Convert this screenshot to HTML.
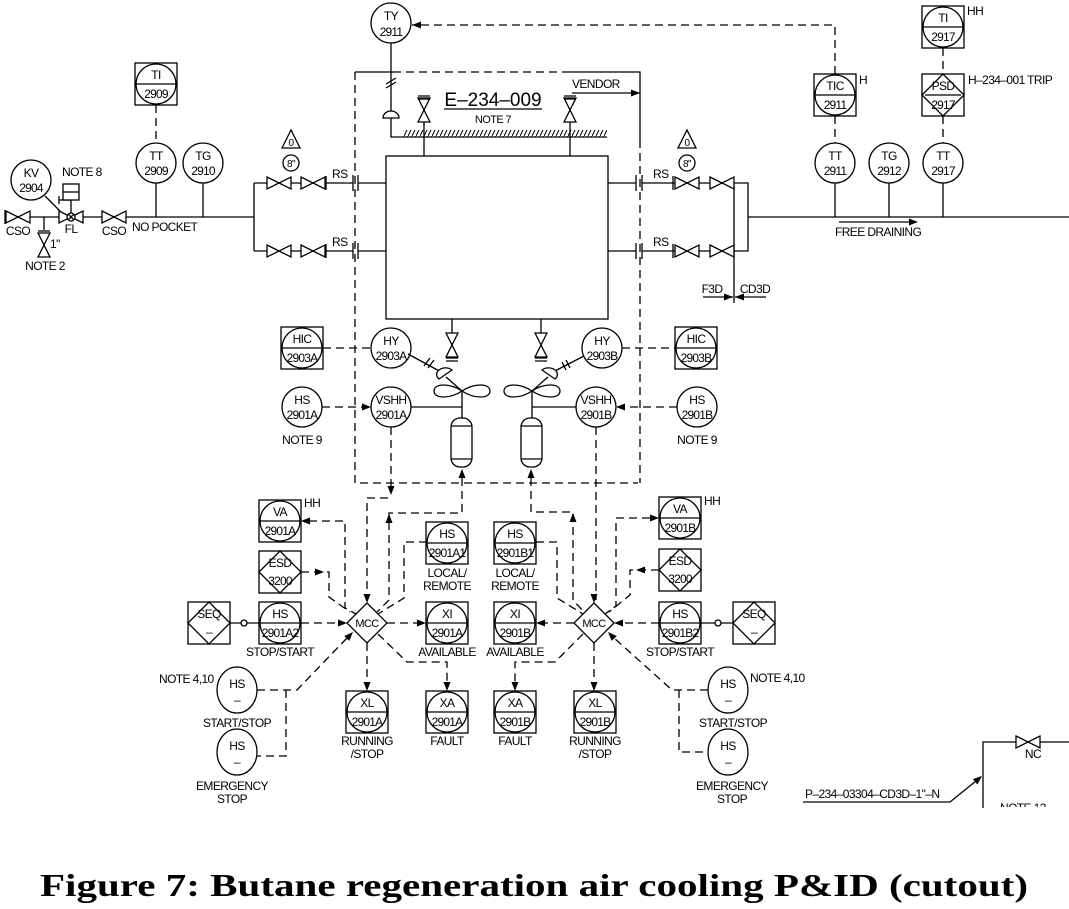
<!DOCTYPE html>
<html><head><meta charset="utf-8"><style>
html,body{margin:0;padding:0;background:#fff;}
svg{display:block;}
.s{stroke:#000;stroke-width:1.3;fill:none;}
.d{stroke:#000;stroke-width:1.3;fill:none;stroke-dasharray:8,5;}
.w{stroke:#000;stroke-width:1.3;fill:#fff;}
text{font-family:"Liberation Sans Narrow","Liberation Sans",sans-serif;font-size:12px;fill:#000;letter-spacing:-0.6px;}
.c{text-anchor:middle;}
.n{font-size:12px;letter-spacing:-0.8px;}
</style></head><body>
<svg width="1069" height="909" viewBox="0 0 1069 909" xmlns="http://www.w3.org/2000/svg">
<defs>
<pattern id="h" width="4" height="8" patternUnits="userSpaceOnUse"><path d="M0,8 L4,0" stroke="#000" stroke-width="1"/></pattern>
<path id="vh" d="M-12,-6 L12,6 L12,-6 L-12,6 Z" stroke="#000" stroke-width="1.3" fill="#fff"/>
<path id="vv" d="M-6,-12 L6,12 L-6,12 L6,-12 Z" stroke="#000" stroke-width="1.3" fill="#fff"/>
<path id="ar" d="M0,0 L-9,-3.5 L-9,3.5 Z" fill="#000"/>
<g id="ib"><rect x="-21" y="-21" width="42" height="42" class="w"/><circle r="20" class="s"/><line x1="-20" y1="0" x2="20" y2="0" class="s"/></g>
<g id="idb"><rect x="-21" y="-21" width="42" height="42" class="w"/><path d="M-21,0 L0,-21 L21,0 L0,21 Z" class="s"/></g>
</defs>

<!-- top signal -->
<circle cx="391" cy="23" r="20" class="w"/><text x="391" y="20" class="c">TY</text><text x="391" y="36" class="c n">2911</text>
<path d="M835,74 V25 H412" class="d"/><use href="#ar" transform="translate(412,25) rotate(180)"/>
<path d="M391,43 V112 M391,118 V137 H403" class="s"/>
<path d="M386,84 L396,78 M386,88 L396,82" class="s"/>
<path d="M383,118 A8,7 0 0 1 399,118 Z" class="w"/>

<!-- vendor boundary -->
<path d="M355,72 V483 H638" class="d"/>
<path d="M355,72 H393" class="s"/><path d="M393,72 H565" class="d"/><path d="M565,72 H640 V140" class="s"/><path d="M640,140 V483" class="d"/>
<text x="572" y="88">VENDOR</text><path d="M572,93 H640" class="s"/><use href="#ar" transform="translate(640,93)"/>

<!-- hatch + top valves -->
<rect x="403" y="130" width="204" height="7" fill="url(#h)"/><line x1="403" y1="137" x2="607" y2="137" class="s"/>
<path d="M424,122 V156 M570,122 V156" class="s"/>
<use href="#vv" transform="translate(424,110)"/><use href="#vv" transform="translate(570,110)"/>
<path d="M418,96 H430 M418,99 H430 M564,96 H576 M564,99 H576" class="s"/>
<text x="493" y="106" class="c" style="font-size:19px;letter-spacing:0">E–234–009</text><line x1="444" y1="109" x2="542" y2="109" class="s"/>
<text x="493" y="123" class="c" style="font-size:11px">NOTE 7</text>

<!-- exchanger -->
<rect x="386" y="156" width="222" height="163" class="s"/>

<!-- left piping -->
<path d="M5,210 V224 M5,217 H254 M254,183 V251" class="s"/>
<use href="#vh" transform="translate(18,217)"/><use href="#vh" transform="translate(71,217)"/><use href="#vh" transform="translate(114,217)"/>
<circle cx="71" cy="217" r="4" class="w"/><path d="M68,214 L74,220 M74,214 L68,220" class="s"/>
<path d="M71,213 V200 M59,200 H71 M59,196 V204" class="s"/><rect x="63" y="184" width="16" height="16" class="w"/><line x1="63" y1="192" x2="79" y2="192" class="s"/>
<text x="18" y="235" class="c">CSO</text><text x="71" y="233" class="c">FL</text><text x="114" y="235" class="c">CSO</text>
<path d="M44,217 V230 M38,231 H50" class="s"/><use href="#vv" transform="translate(44,245)"/>
<text x="50" y="248">1"</text><text x="45" y="270" class="c">NOTE 2</text>
<circle cx="31" cy="180" r="20" class="w"/><text x="31" y="177" class="c">KV</text><text x="31" y="192" class="c n">2904</text>
<path d="M45,196 L60,211" class="s"/>
<text x="62" y="176">NOTE 8</text>
<text x="132" y="231">NO POCKET</text>
<use href="#ib" transform="translate(156,84)"/><text x="156" y="79" class="c">TI</text><text x="156" y="98" class="c n">2909</text>
<path d="M156,105 V143" class="d"/>
<circle cx="156" cy="163" r="20" class="w"/><text x="156" y="160" class="c">TT</text><text x="156" y="175" class="c n">2909</text>
<circle cx="203" cy="163" r="20" class="w"/><text x="203" y="160" class="c">TG</text><text x="203" y="175" class="c n">2910</text>
<path d="M156,183 V217 M203,183 V217" class="s"/>
<!-- left branches -->
<path d="M254,183 H353 M358,183 H386 M254,251 H353 M358,251 H386 M326,176 V190 M326,244 V258 M353,175 V191 M358,175 V191 M353,243 V259 M358,243 V259" class="s"/>
<use href="#vh" transform="translate(279,183)"/><use href="#vh" transform="translate(313,183)"/>
<use href="#vh" transform="translate(279,251)"/><use href="#vh" transform="translate(313,251)"/>
<text x="332" y="178">RS</text><text x="332" y="246">RS</text>
<path d="M291,130 L282,148 H300 Z" class="s"/><text x="291" y="146" class="c" style="font-size:10px">0</text>
<circle cx="291" cy="163" r="8" class="s"/><text x="291" y="167" class="c" style="font-size:10px">8"</text>

<!-- right branches -->
<path d="M608,183 H636 M642,183 H748 V251 H642 M636,251 H608 M636,175 V191 M642,175 V191 M636,243 V259 M642,243 V259 M673,176 V190 M673,244 V258 M734,183 V303 M748,217 H1069" class="s"/>
<use href="#vh" transform="translate(687,183)"/><use href="#vh" transform="translate(722,183)"/>
<use href="#vh" transform="translate(687,251)"/><use href="#vh" transform="translate(722,251)"/>
<text x="653" y="178">RS</text><text x="653" y="246">RS</text>
<path d="M687,130 L678,148 H696 Z" class="s"/><text x="687" y="146" class="c" style="font-size:10px">0</text>
<circle cx="687" cy="163" r="8" class="s"/><text x="687" y="167" class="c" style="font-size:10px">8"</text>
<text x="712" y="293" class="c">F3D</text><text x="755" y="293" class="c">CD3D</text>
<path d="M703,297 H733 M766,297 H735" class="s"/><use href="#ar" transform="translate(733,297)"/><use href="#ar" transform="translate(735,297) rotate(180)"/>

<!-- right instruments -->
<circle cx="835" cy="163" r="20" class="w"/><text x="835" y="160" class="c">TT</text><text x="835" y="175" class="c n">2911</text>
<circle cx="889" cy="163" r="20" class="w"/><text x="889" y="160" class="c">TG</text><text x="889" y="175" class="c n">2912</text>
<circle cx="943" cy="163" r="20" class="w"/><text x="943" y="160" class="c">TT</text><text x="943" y="175" class="c n">2917</text>
<path d="M835,183 V217 M889,183 V217 M943,183 V217" class="s"/>
<path d="M835,116 V143 M943,116 V143 M943,48 V74" class="d"/>
<use href="#ib" transform="translate(835,95)"/><text x="835" y="90" class="c">TIC</text><text x="835" y="109" class="c n">2911</text>
<text x="859" y="84">H</text>
<rect x="922" y="74" width="42" height="42" class="w"/><path d="M922,95 L943,74 L964,95 L943,116 Z" class="s"/><line x1="925" y1="95" x2="961" y2="95" class="s"/>
<text x="943" y="90" class="c">PSD</text><text x="943" y="109" class="c n">2917</text>
<text x="968" y="84">H–234–001 TRIP</text>
<use href="#ib" transform="translate(943,27)"/><text x="943" y="22" class="c">TI</text><text x="943" y="41" class="c n">2917</text>
<text x="967" y="15">HH</text>
<path d="M839,222 H912" class="s"/><use href="#ar" transform="translate(918,222)"/>
<text x="835" y="236">FREE DRAINING</text>

<!-- bottom valves -->
<path d="M452,319 V333 M541,319 V333" class="s"/>
<use href="#vv" transform="translate(452,345)"/><use href="#vv" transform="translate(541,345)"/>
<path d="M446,358 H458 M446,361 H458 M535,358 H547 M535,361 H547" class="s"/>

<!-- HY/HIC/HS/VSHH A -->
<use href="#ib" transform="translate(302,348)"/><text x="302" y="343" class="c">HIC</text><text x="302" y="362" class="c n">2903A</text>
<path d="M323,348 H371" class="d"/>
<circle cx="391" cy="348" r="20" class="w"/><text x="391" y="345" class="c">HY</text><text x="391" y="360" class="c n">2903A</text>
<circle cx="302" cy="407" r="20" class="w"/><text x="302" y="404" class="c">HS</text><text x="302" y="419" class="c n">2901A</text>
<path d="M322,407 H369" class="d"/><use href="#ar" transform="translate(371,407)"/>
<circle cx="391" cy="407" r="20" class="w"/><text x="391" y="404" class="c">VSHH</text><text x="391" y="419" class="c n">2901A</text>
<text x="302" y="444" class="c">NOTE 9</text>
<path d="M408,354 L443,373 M446,377 L462,391 V418 M411,407 H462 M424,366 L430,358 M428,368 L434,360" class="s"/>
<path d="M439,379 A8,6 0 0 1 452,370 Z" class="w"/>
<path d="M462,391 C450,383 434,383 434,391 C434,399 450,399 462,391 C474,383 490,383 490,391 C490,399 474,399 462,391 Z" class="w"/>
<rect x="451" y="418" width="21" height="49" rx="9" class="w"/><path d="M451,426 H472 M451,459 H472" class="s"/>

<!-- B side -->
<use href="#ib" transform="translate(696,348)"/><text x="696" y="343" class="c">HIC</text><text x="696" y="362" class="c n">2903B</text>
<path d="M622,348 H675" class="d"/>
<circle cx="602" cy="348" r="20" class="w"/><text x="602" y="345" class="c">HY</text><text x="602" y="360" class="c n">2903B</text>
<circle cx="697" cy="407" r="20" class="w"/><text x="697" y="404" class="c">HS</text><text x="697" y="419" class="c n">2901B</text>
<path d="M677,407 H618" class="d"/><use href="#ar" transform="translate(616,407) rotate(180)"/>
<circle cx="596" cy="407" r="20" class="w"/><text x="596" y="404" class="c">VSHH</text><text x="596" y="419" class="c n">2901B</text>
<text x="697" y="444" class="c">NOTE 9</text>
<path d="M584,356 L551,373 M548,377 L532,391 V418 M576,407 H532 M562,362 L566,370 M566,360 L570,368" class="s"/>
<path d="M542,370 A8,6 0 0 1 555,379 Z" class="w"/>
<path d="M532,391 C520,383 504,383 504,391 C504,399 520,399 532,391 C544,383 560,383 560,391 C560,399 544,399 532,391 Z" class="w"/>
<rect x="521" y="418" width="21" height="49" rx="9" class="w"/><path d="M521,426 H542 M521,459 H542" class="s"/>

<!-- lower dashed links A -->
<path d="M391,427 V490" class="d"/><use href="#ar" transform="translate(391,495) rotate(90)"/>
<path d="M388,498 H367 V600" class="d"/><use href="#ar" transform="translate(367,603) rotate(90)"/>
<path d="M462,478 V513 H389 V600 L377,612" class="d"/><use href="#ar" transform="translate(462,469) rotate(-90)"/><use href="#ar" transform="translate(389,514) rotate(-90)"/>
<path d="M309,521 H345 V608 L356,614" class="d"/><use href="#ar" transform="translate(301,521) rotate(180)"/>
<path d="M301,572 H329 V597 L350,612" class="d"/><use href="#ar" transform="translate(324,572)"/>
<path d="M427,542 H404 V598 L378,614" class="d"/>
<path d="M229,623 H241 M247,623 H259" class="s"/><circle cx="244" cy="623" r="3" class="s"/>
<path d="M301,623 H338" class="d"/><use href="#ar" transform="translate(347,623)"/>
<path d="M387,623 H418" class="d"/><use href="#ar" transform="translate(426,623)"/>
<path d="M367,643 V683" class="d"/><use href="#ar" transform="translate(367,691) rotate(90)"/>
<path d="M378,634 L407,662 H447 V683" class="d"/><use href="#ar" transform="translate(447,691) rotate(90)"/>
<path d="M257,690 H297 L348,637" class="d"/><use href="#ar" transform="translate(353,632) rotate(-46)"/>
<path d="M286,690 V756 H257" class="d"/>

<!-- lower dashed links B -->
<path d="M596,427 V600" class="d"/><use href="#ar" transform="translate(594,603) rotate(90)"/>
<path d="M531,478 V512 H573 V600 L584,612" class="d"/><use href="#ar" transform="translate(531,469) rotate(-90)"/><use href="#ar" transform="translate(573,513) rotate(-90)"/>
<path d="M650,518 H616 V606 L605,614" class="d"/><use href="#ar" transform="translate(659,518)"/>
<path d="M659,570 H630 V595 L609,612" class="d"/><use href="#ar" transform="translate(636,570) rotate(180)"/>
<path d="M536,542 H557 V598 L583,614" class="d"/>
<path d="M734,623 H721 M715,623 H701" class="s"/><circle cx="718" cy="623" r="3" class="s"/>
<path d="M659,623 H623" class="d"/><use href="#ar" transform="translate(614,623) rotate(180)"/>
<path d="M574,623 H544" class="d"/><use href="#ar" transform="translate(536,623) rotate(180)"/>
<path d="M594,643 V683" class="d"/><use href="#ar" transform="translate(594,691) rotate(90)"/>
<path d="M583,634 L555,662 H515 V683" class="d"/><use href="#ar" transform="translate(515,691) rotate(90)"/>
<path d="M708,690 H672 L613,637" class="d"/><use href="#ar" transform="translate(608,632) rotate(-134)"/>
<path d="M679,690 V752 H708" class="d"/>

<!-- MCC diamonds -->
<path d="M367,603 L387,623 L367,643 L347,623 Z" class="w"/><text x="367" y="627" class="c" style="font-size:11px">MCC</text>
<path d="M594,603 L614,623 L594,643 L574,623 Z" class="w"/><text x="594" y="627" class="c" style="font-size:11px">MCC</text>

<!-- A side boxes -->
<use href="#ib" transform="translate(280,521)"/><text x="280" y="516" class="c">VA</text><text x="280" y="535" class="c n">2901A</text>
<text x="304" y="507">HH</text>
<use href="#idb" transform="translate(280,572)"/><text x="280" y="567" class="c">ESD</text><text x="280" y="585" class="c n">3200</text>
<use href="#idb" transform="translate(209,623)"/><text x="209" y="618" class="c">SEQ</text><text x="209" y="636" class="c">–</text>
<use href="#ib" transform="translate(280,623)"/><text x="280" y="618" class="c">HS</text><text x="280" y="637" class="c n">2901A2</text>
<text x="280" y="656" class="c">STOP/START</text>
<use href="#ib" transform="translate(447,543)"/><text x="447" y="538" class="c">HS</text><text x="447" y="557" class="c n">2901A1</text>
<text x="447" y="577" class="c">LOCAL/</text><text x="447" y="590" class="c">REMOTE</text>
<use href="#ib" transform="translate(447,623)"/><text x="447" y="618" class="c">XI</text><text x="447" y="637" class="c n">2901A</text>
<text x="447" y="656" class="c">AVAILABLE</text>
<use href="#ib" transform="translate(367,712)"/><text x="367" y="707" class="c">XL</text><text x="367" y="726" class="c n">2901A</text>
<text x="367" y="745" class="c">RUNNING</text><text x="367" y="758" class="c">/STOP</text>
<use href="#ib" transform="translate(447,712)"/><text x="447" y="707" class="c">XA</text><text x="447" y="726" class="c n">2901A</text>
<text x="447" y="745" class="c">FAULT</text>
<ellipse cx="237" cy="690" rx="20" ry="23" class="w"/><text x="237" y="688" class="c">HS</text><text x="237" y="704" class="c">–</text>
<text x="159" y="683">NOTE 4,10</text><text x="237" y="727" class="c">START/STOP</text>
<ellipse cx="237" cy="752" rx="20" ry="23" class="w"/><text x="237" y="750" class="c">HS</text><text x="237" y="766" class="c">–</text>
<text x="232" y="790" class="c">EMERGENCY</text><text x="232" y="803" class="c">STOP</text>

<!-- B side boxes -->
<use href="#ib" transform="translate(680,518)"/><text x="680" y="513" class="c">VA</text><text x="680" y="532" class="c n">2901B</text>
<text x="704" y="505">HH</text>
<use href="#idb" transform="translate(680,570)"/><text x="680" y="565" class="c">ESD</text><text x="680" y="583" class="c n">3200</text>
<use href="#idb" transform="translate(754,623)"/><text x="754" y="618" class="c">SEQ</text><text x="754" y="636" class="c">–</text>
<use href="#ib" transform="translate(680,623)"/><text x="680" y="618" class="c">HS</text><text x="680" y="637" class="c n">2901B2</text>
<text x="680" y="656" class="c">STOP/START</text>
<use href="#ib" transform="translate(515,543)"/><text x="515" y="538" class="c">HS</text><text x="515" y="557" class="c n">2901B1</text>
<text x="515" y="577" class="c">LOCAL/</text><text x="515" y="590" class="c">REMOTE</text>
<use href="#ib" transform="translate(515,623)"/><text x="515" y="618" class="c">XI</text><text x="515" y="637" class="c n">2901B</text>
<text x="515" y="656" class="c">AVAILABLE</text>
<use href="#ib" transform="translate(595,712)"/><text x="595" y="707" class="c">XL</text><text x="595" y="726" class="c n">2901B</text>
<text x="595" y="745" class="c">RUNNING</text><text x="595" y="758" class="c">/STOP</text>
<use href="#ib" transform="translate(515,712)"/><text x="515" y="707" class="c">XA</text><text x="515" y="726" class="c n">2901B</text>
<text x="515" y="745" class="c">FAULT</text>
<ellipse cx="728" cy="690" rx="20" ry="23" class="w"/><text x="728" y="688" class="c">HS</text><text x="728" y="704" class="c">–</text>
<text x="750" y="682">NOTE 4,10</text><text x="733" y="727" class="c">START/STOP</text>
<ellipse cx="728" cy="752" rx="20" ry="23" class="w"/><text x="728" y="750" class="c">HS</text><text x="728" y="766" class="c">–</text>
<text x="732" y="790" class="c">EMERGENCY</text><text x="732" y="803" class="c">STOP</text>

<!-- bottom right -->
<text x="805" y="798">P–234–03304–CD3D–1"–N</text>
<path d="M803,802 H950 L976,781" class="s"/><use href="#ar" transform="translate(982,776) rotate(-40)"/>
<path d="M983,808 V742 H1069" class="s"/><use href="#vh" transform="translate(1028,742)"/>
<text x="1033" y="758" class="c">NC</text>
<text x="1000" y="812">NOTE 12</text>
<rect x="990" y="807" width="79" height="20" fill="#fff"/>

<!-- caption -->
<text x="40" y="896" textLength="988" lengthAdjust="spacingAndGlyphs" style="font-family:'Liberation Serif',serif;font-weight:bold;font-size:32px;letter-spacing:0">Figure 7: Butane regeneration air cooling P&amp;ID (cutout)</text>
</svg>
</body></html>
